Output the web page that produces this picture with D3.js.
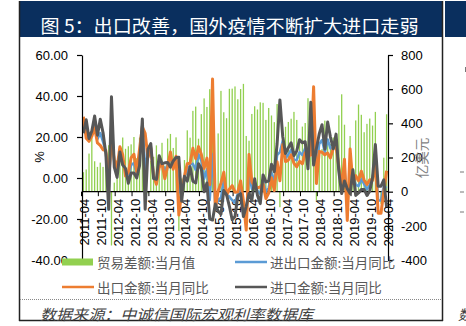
<!DOCTYPE html>
<html><head><meta charset="utf-8">
<script src="https://cdn.jsdelivr.net/npm/d3@7"></script>
<style>
html,body{margin:0;padding:0;background:#fff;}
svg{display:block;}
</style></head>
<body>
<svg id="c" width="466" height="326"></svg>
<script>
// ---------------- DATA ----------------
const months = [
 "2011-04","2011-05","2011-06","2011-07","2011-08","2011-09","2011-10","2011-11","2011-12",
 "2012-01","2012-02","2012-03","2012-04","2012-05","2012-06","2012-07","2012-08","2012-09","2012-10","2012-11","2012-12",
 "2013-01","2013-02","2013-03","2013-04","2013-05","2013-06","2013-07","2013-08","2013-09","2013-10","2013-11","2013-12",
 "2014-01","2014-02","2014-03","2014-04","2014-05","2014-06","2014-07","2014-08","2014-09","2014-10","2014-11","2014-12",
 "2015-01","2015-02","2015-03","2015-04","2015-05","2015-06","2015-07","2015-08","2015-09","2015-10","2015-11","2015-12",
 "2016-01","2016-02","2016-03","2016-04","2016-05","2016-06","2016-07","2016-08","2016-09","2016-10","2016-11","2016-12",
 "2017-01","2017-02","2017-03","2017-04","2017-05","2017-06","2017-07","2017-08","2017-09","2017-10","2017-11","2017-12",
 "2018-01","2018-02","2018-03","2018-04","2018-05","2018-06","2018-07","2018-08","2018-09","2018-10","2018-11","2018-12",
 "2019-01","2019-02","2019-03","2019-04","2019-05","2019-06","2019-07","2019-08","2019-09","2019-10","2019-11","2019-12",
 "2020-01","2020-02","2020-03","2020-04"];

const tickLabels = ["2011-04","2011-10","2012-04","2012-10","2013-04","2013-10","2014-04","2014-10",
 "2015-04","2015-10","2016-04","2016-10","2017-04","2017-10","2018-04","2018-10","2019-04","2019-10","2020-04"];

// 贸易差额:当月值 (亿美元)
const tradeBalance = [
 114,130,223,315,178,145,170,145,165,
 272,-315,53,184,187,317,251,266,277,320,196,316,
 292,153,-9,181,204,271,178,286,152,311,338,256,
 318,-230,77,185,359,316,473,498,310,454,546,496,
 600,606,30,341,590,465,430,602,603,616,541,601,
 631,326,298,455,500,481,523,520,420,490,446,407,
 513,-91,240,380,408,427,467,420,285,381,402,547,
 203,337,-50,287,249,416,280,279,317,340,447,570,
 392,41,326,138,417,510,450,348,397,428,387,467,
 null,-71,199,453];

// 进出口金额:当月同比 (%)
const totalYoY = [
 26.0,23.9,18.5,21.6,27.1,18.9,21.9,17.6,12.7,
 -7.8,27.6,7.1,2.7,14.1,9.0,2.7,0.2,6.3,7.3,1.5,10.2,
 26.7,4.8,12.0,15.7,0.4,-2.0,7.8,7.1,3.3,6.6,9.3,6.1,
 10.3,-4.8,-9.0,0.8,2.9,6.6,7.0,3.9,11.6,8.6,-0.4,4.2,
 -10.8,11.7,-14.5,-10.6,-9.7,-1.2,-8.2,-9.1,-10.9,-12.0,-7.6,-4.1,
 -14.3,-20.9,2.4,-5.2,-2.5,-6.3,-7.7,-0.9,-6.8,-4.8,2.7,-2.2,
 11.2,12.6,18.2,9.6,11.4,13.8,8.8,8.8,12.6,11.2,14.5,8.2,
 22.3,25.4,4.9,16.6,18.5,12.4,18.8,14.4,14.4,18.2,4.4,-5.8,
 4.3,-14.0,4.2,0.4,-3.2,-4.0,-0.6,-3.0,-5.6,-3.3,-0.5,11.5,
 -11.0,-11.0,-3.9,-4.9];

// 出口金额:当月同比 (%)
const exportYoY = [
 29.9,19.4,17.9,20.4,24.5,17.1,15.9,13.8,13.4,
 -0.5,18.4,8.9,4.9,15.3,11.3,1.0,2.7,9.9,11.6,2.9,14.1,
 25.0,21.8,10.0,14.7,1.0,-3.1,5.1,7.2,-0.3,5.6,12.7,4.3,
 10.6,-18.1,-6.6,0.9,7.0,7.2,14.5,9.4,15.3,11.6,4.7,9.7,
 -3.3,48.3,-15.0,-6.4,-2.5,2.8,-8.3,-5.5,-3.7,-6.9,-6.8,-1.4,
 -11.2,-25.4,11.5,-1.8,-4.1,-4.8,-4.4,-2.8,-10.0,-7.3,0.1,-6.1,
 7.9,-1.3,16.4,8.0,8.7,11.3,7.2,5.5,8.1,6.9,12.3,10.9,
 11.1,44.5,-2.7,12.9,12.6,11.3,12.2,9.8,14.5,15.6,5.4,-4.4,
 9.1,-20.7,14.2,-2.7,1.1,-1.3,3.3,-1.0,-3.2,-0.9,-1.1,7.6,
 -17.2,-17.2,-6.6,3.5];

// 进口金额:当月同比 (%)
const importYoY = [
 21.8,28.4,19.3,22.9,30.2,20.9,28.7,22.1,11.8,
 -15.3,39.6,5.3,0.3,12.7,6.3,4.7,-2.6,2.4,2.4,0.0,6.0,
 28.8,-15.2,14.1,16.8,-0.3,-0.7,10.9,7.0,7.4,7.6,5.3,8.3,
 10.0,10.1,-11.3,0.8,-1.6,5.5,-1.6,-2.4,7.0,4.6,-6.7,-2.4,
 -19.9,-20.5,-12.7,-16.2,-17.6,-6.1,-8.1,-13.8,-20.4,-18.8,-8.7,-7.6,
 -18.8,-13.8,-7.6,-10.9,-0.4,-8.4,-12.5,1.5,-1.9,-1.4,6.7,3.1,
 16.7,38.1,20.3,11.9,14.8,17.2,11.0,13.3,18.7,17.2,17.7,4.5,
 36.9,6.3,14.4,21.5,26.0,14.1,27.3,20.0,14.3,21.4,3.0,-7.6,
 -1.5,-5.2,-7.6,4.0,-8.5,-7.3,-5.6,-5.6,-8.5,-6.4,0.3,16.3,
 -4.0,-4.0,-0.9,-14.2];

const leftTicks = [-40,-20,0,20,40,60];
const rightTicks = [-400,-200,0,200,400,600,800];
const seriesNames = ["贸易差额:当月值","进出口金额:当月同比","出口金额:当月同比","进口金额:当月同比"];
const titleText = "图 5：出口改善，国外疫情不断扩大进口走弱";
const sourceText = "数据来源：中诚信国际宏观利率数据库";

// ---------------- DRAW ----------------
const svg = d3.select("#c");
const navy = "#0a2f5e";
const cjk = "'Noto Sans CJK SC','Noto Sans',sans-serif";
const lat = "'Liberation Sans',Arial,sans-serif";

// frame
svg.append("rect").attr("x",19).attr("y",1).attr("width",423).attr("height",36).attr("fill",navy);
svg.append("rect").attr("x",445).attr("y",1).attr("width",21).attr("height",36).attr("fill",navy);
svg.append("text").attr("x",229.5).attr("y",25).attr("text-anchor","middle").attr("dominant-baseline","central")
  .attr("fill","#fff").attr("font-family",cjk).attr("font-size",18)
  .attr("textLength",378).attr("lengthAdjust","spacingAndGlyphs").text(titleText);
svg.append("line").attr("x1",19.5).attr("x2",19.5).attr("y1",1).attr("y2",321).attr("stroke","#222").attr("stroke-width",1.5);
svg.append("line").attr("x1",442.5).attr("x2",442.5).attr("y1",1).attr("y2",321).attr("stroke","#222").attr("stroke-width",1.5);
svg.append("line").attr("x1",19).attr("x2",443).attr("y1",320.5).attr("y2",320.5).attr("stroke","#222").attr("stroke-width",1.5);
svg.append("line").attr("x1",20).attr("x2",442).attr("y1",299.5).attr("y2",299.5).attr("stroke","#888").attr("stroke-width",1).attr("stroke-dasharray","1,1");
svg.append("text").attr("x",40).attr("y",313).attr("dominant-baseline","central")
  .attr("fill","#404040").attr("font-family",cjk).attr("font-size",14.5).attr("font-style","italic")
  .attr("textLength",273).attr("lengthAdjust","spacingAndGlyphs").text(sourceText);
// neighbouring panel fragments
[172,192,212].forEach(y=>svg.append("line").attr("x1",460).attr("x2",464).attr("y1",y).attr("y2",y).attr("stroke","#777"));
svg.append("line").attr("x1",465.5).attr("x2",465.5).attr("y1",67).attr("y2",72).attr("stroke","#777");
svg.append("text").attr("x",458).attr("y",314).attr("dominant-baseline","central").attr("fill","#404040")
  .attr("font-family",cjk).attr("font-size",14).attr("font-style","italic").text("数");

// scales
const X0 = 82, X1 = 388, YT = 55, YB = 260;
const x = d3.scaleBand().domain(months).range([X0, X1]).padding(0);
const yL = d3.scaleLinear().domain([-40,60]).range([YB, YT]);
const yR = d3.scaleLinear().domain([-400,800]).range([YB, YT]);
const bw = x.bandwidth();

// bars
const bars = svg.append("g");
const barW = 1.3;
bars.selectAll("rect").data(months.map((m,i)=>({m, v: tradeBalance[i]})).filter(d=>d.v!=null))
  .join("rect")
  .attr("x", d => x(d.m) + bw/2 - barW/2)
  .attr("width", barW)
  .attr("y", d => Math.min(yR(d.v), yR(0)))
  .attr("height", d => Math.abs(yR(d.v) - yR(0)))
  .attr("fill", "#92d050");

// x axis line + ticks + labels
const yAx = yR(0);
svg.append("line").attr("x1",X0).attr("x2",X1).attr("y1",yAx).attr("y2",yAx).attr("stroke","#000").attr("stroke-width",1.2);
const xt = svg.append("g");
tickLabels.forEach(t => {
  const xs = x(t) - 0.5;
  xt.append("line").attr("x1",xs).attr("x2",xs).attr("y1",yAx).attr("y2",yAx+4.5).attr("stroke","#000");
  xt.append("text").attr("transform",`translate(${x(t)+bw/2+1.5},${yAx+7}) rotate(-90)`)
    .attr("text-anchor","end").attr("dominant-baseline","central")
    .attr("font-family",lat).attr("font-size",13).attr("fill","#000").text(t);
});

// lines
const lineGen = arr => d3.line().defined(d=>d!=null).x((d,i)=>x(months[i])+bw/2).y(d=>yL(d))(arr);
svg.append("path").attr("d", lineGen(totalYoY)).attr("fill","none").attr("stroke","#5b9bd5").attr("stroke-width",2.5).attr("stroke-linejoin","round");
svg.append("path").attr("d", lineGen(exportYoY)).attr("fill","none").attr("stroke","#ed7d31").attr("stroke-width",3).attr("stroke-linejoin","round");
svg.append("path").attr("d", lineGen(importYoY)).attr("fill","none").attr("stroke","#575757").attr("stroke-width",3).attr("stroke-linejoin","round");

// axes
const gl = svg.append("g").attr("transform",`translate(${X0},0)`)
  .call(d3.axisLeft(yL).tickValues(leftTicks).tickFormat(d=>d.toFixed(2)).tickSize(5).tickSizeOuter(0).tickPadding(9));
const gr = svg.append("g").attr("transform",`translate(${X1},0)`)
  .call(d3.axisRight(yR).tickValues(rightTicks).tickFormat(d=>String(d)).tickSize(5).tickSizeOuter(0).tickPadding(8));
[gl,gr].forEach(g=>{
  g.selectAll("text").attr("font-family",lat).attr("font-size",13).attr("fill","#000");
  g.selectAll("path,line").attr("stroke","#000").attr("stroke-width",1.2);
});

// axis titles
svg.append("text").attr("transform","translate(39,157) rotate(-90)").attr("text-anchor","middle").attr("dominant-baseline","central")
  .attr("font-family",lat).attr("font-size",13).attr("fill","#000").text("%");
svg.append("text").attr("transform","translate(421,158) rotate(-90)").attr("text-anchor","middle").attr("dominant-baseline","central")
  .attr("font-family",cjk).attr("font-size",13.5).attr("fill","#7f7f7f").text("亿美元");

// legend
const lg = svg.append("g");
const leg = [
  {name: seriesNames[0], type:"rect", color:"#92d050", x:62, y:262},
  {name: seriesNames[1], type:"line", color:"#5b9bd5", x:235, y:262},
  {name: seriesNames[2], type:"line", color:"#ed7d31", x:62, y:287},
  {name: seriesNames[3], type:"line", color:"#575757", x:235, y:287}
];
leg.forEach(d=>{
  if (d.type==="rect") lg.append("rect").attr("x",d.x).attr("y",d.y-3.5).attr("width",31).attr("height",7).attr("fill",d.color);
  else lg.append("line").attr("x1",d.x).attr("x2",d.x+32).attr("y1",d.y).attr("y2",d.y).attr("stroke",d.color).attr("stroke-width",2.5);
  lg.append("text").attr("x",d.x+35).attr("y",d.y).attr("dominant-baseline","central")
    .attr("font-family",cjk).attr("font-size",13.5).attr("fill","#595959").text(d.name);
});
</script>
</body></html>
